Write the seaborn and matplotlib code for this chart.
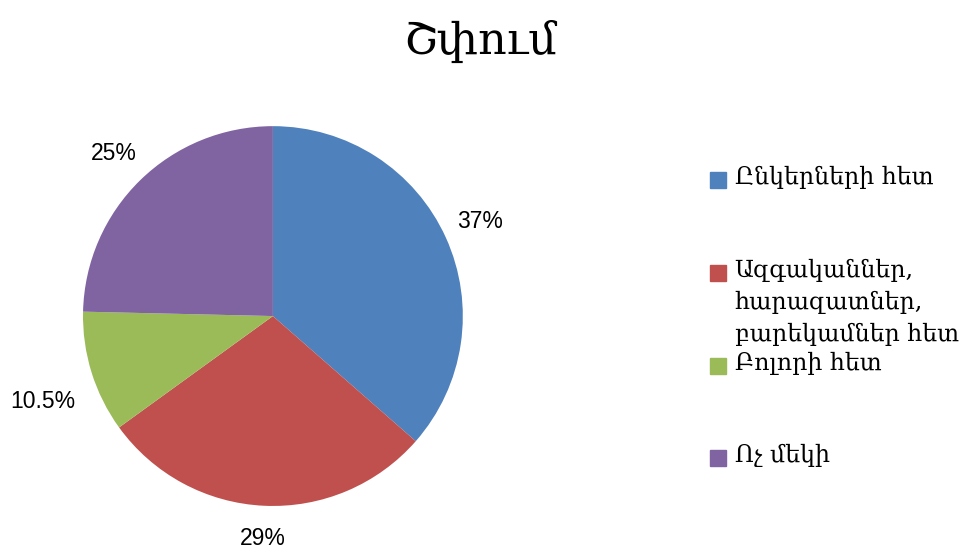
import matplotlib
matplotlib.use("Agg")
import matplotlib.pyplot as plt
from matplotlib.patches import Rectangle
import seaborn as sns

# data
title = "Շփում"
categories = ["Ընկերների հետ", "Ազգականներ,\nհարազատներ,\nբարեկամներ հետ", "Բոլորի հետ", "Ոչ մեկի"]
values = [37, 29, 10.5, 25]
pct_labels = ["37%", "29%", "10.5%", "25%"]
colors = ["#4F81BD", "#C0504D", "#9BBB59", "#8064A2"]

sns.set_theme(style="white")
plt.rcParams['font.family'] = ['DejaVu Serif']
plt.rcParams['text.color'] = 'black'

fig = plt.figure(figsize=(9.64, 5.49), dpi=100)
ax = fig.add_axes([0.0861, 0.0783, 0.394, 0.692])

wedges, texts = ax.pie(values, colors=colors, startangle=90, counterclock=False,
                       labels=pct_labels, labeldistance=1.2,
                       wedgeprops=dict(linewidth=0))
for t in texts:
    t.set_fontfamily(['Liberation Sans', 'DejaVu Sans'])
    t.set_fontsize(16.5)
    t.set_color('black')
    t.set_ha('center')
    t.set_va('center')
# small nudges so the labels sit where the original puts them
texts[1].set_position((texts[1].get_position()[0], -1.17))
texts[2].set_position((-1.21, -0.45))
ax.set_xlim(-1, 1)
ax.set_ylim(-1, 1)
ax.set_aspect('equal')

fig.text(0.498, 0.925, title, ha='center', va='center', fontsize=32)

# legend drawn by hand so the marker sits on the first line
for i, (lab, col) in enumerate(zip(categories, colors)):
    y = 0.672 - i * 0.169
    fig.patches.append(Rectangle((0.7365, y - 0.0145), 0.0166, 0.029,
                                 transform=fig.transFigure, color=col))
    fig.text(0.762, y + 0.026, lab, ha='left', va='top', fontsize=17, linespacing=1.5)

fig.savefig("out.png", dpi=100)
